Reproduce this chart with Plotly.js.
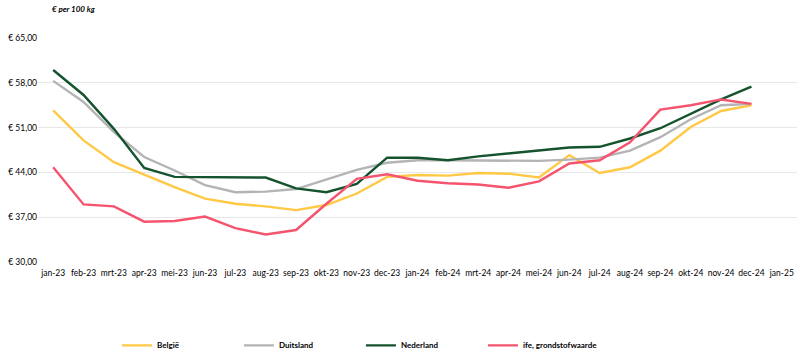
<!DOCTYPE html>
<html>
<head>
<meta charset="utf-8">
<script src="https://cdn.plot.ly/plotly-3.0.1.min.js"></script>
<style>html,body{margin:0;padding:0;background:#fff;}#chart{width:802px;height:353px;}</style>
</head>
<body>
<div id="chart"></div>
<script>
const months = ["jan-23","feb-23","mrt-23","apr-23","mei-23","jun-23","jul-23","aug-23","sep-23","okt-23","nov-23","dec-23",
                "jan-24","feb-24","mrt-24","apr-24","mei-24","jun-24","jul-24","aug-24","sep-24","okt-24","nov-24","dec-24","jan-25"];
const dataMonths = months.slice(0, 24);

const belgie     = [53.7,49.0,45.6,43.6,41.7,39.9,39.1,38.7,38.1,38.9,40.7,43.3,43.6,43.5,43.9,43.8,43.2,46.7,43.9,44.8,47.4,51.1,53.6,54.5];
const duitsland  = [58.3,55.0,50.3,46.4,44.3,42.0,40.9,41.0,41.4,42.9,44.4,45.5,45.9,45.9,45.9,45.8,45.8,46.0,46.3,47.4,49.5,52.3,54.5,54.7];
const nederland  = [60.0,56.1,50.8,44.7,43.3,43.3,43.2,43.2,41.5,40.9,42.2,46.3,46.3,45.9,46.5,47.0,47.5,47.9,48.0,49.3,50.9,53.2,55.4,57.4];
const grondstof  = [44.8,39.0,38.7,36.3,36.4,37.1,35.3,34.3,35.0,39.1,43.0,43.7,42.7,42.3,42.1,41.6,42.6,45.4,45.9,48.7,53.8,54.5,55.4,54.7];

const names = ["België","Duitsland","Nederland","ife, grondstofwaarde"];
const colors = ["#FFC845","#B4B4B4","#14532D","#F5546E"];
const series = [belgie, duitsland, nederland, grondstof];

const yTicks = [30,37,44,51,58,65];
const yTickText = ["€ 30,00","€ 37,00","€ 44,00","€ 51,00","€ 58,00","€ 65,00"];

const traces = series.map((s, i) => ({
  x: dataMonths, y: s, type: "scatter", mode: "lines", name: names[i],
  line: {color: colors[i], width: 2.4}
}));

const fontFam = "Lato, 'Open Sans', sans-serif";
const layout = {
  width: 802, height: 353,
  margin: {l: 38, r: 5, t: 38, b: 91, autoexpand: false},
  paper_bgcolor: "#fff", plot_bgcolor: "#fff",
  font: {family: fontFam, size: 8.5, color: "#000"},
  xaxis: {type: "category", categoryorder: "array", categoryarray: months,
          range: [-0.5, 24.5], showgrid: false, zeroline: false, showline: false, automargin: false,
          ticks: "", ticklabelstandoff: 4, tickfont: {family: fontFam, size: 8.5, color: "#000"}, tickangle: 0},
  yaxis: {range: [30, 65], tickvals: yTicks, ticktext: yTickText, showgrid: true, automargin: false,
          gridcolor: "#E8E8E8", gridwidth: 1, zeroline: false, showline: false, ticks: "",
          tickfont: {family: fontFam, size: 8.5, color: "#000"}, fixedrange: true},
  showlegend: true,
  legend: {orientation: "h", x: 0.104, xanchor: "left", y: -0.372, yanchor: "middle",
           entrywidth: 77, entrywidthmode: "pixels",
           font: {family: fontFam, size: 8, color: "#000", weight: "bold"}, itemwidth: 30, tracegroupgap: 0},
  annotations: [{text: "<b><i>€ per 100 kg</i></b>", xref: "paper", yref: "paper",
                 x: 0.016, y: 1.13, xanchor: "left", yanchor: "middle", showarrow: false,
                 font: {family: fontFam, size: 8, color: "#000"}}]
};

Plotly.newPlot("chart", traces, layout, {displayModeBar: false, staticPlot: true});
</script>
</body>
</html>
